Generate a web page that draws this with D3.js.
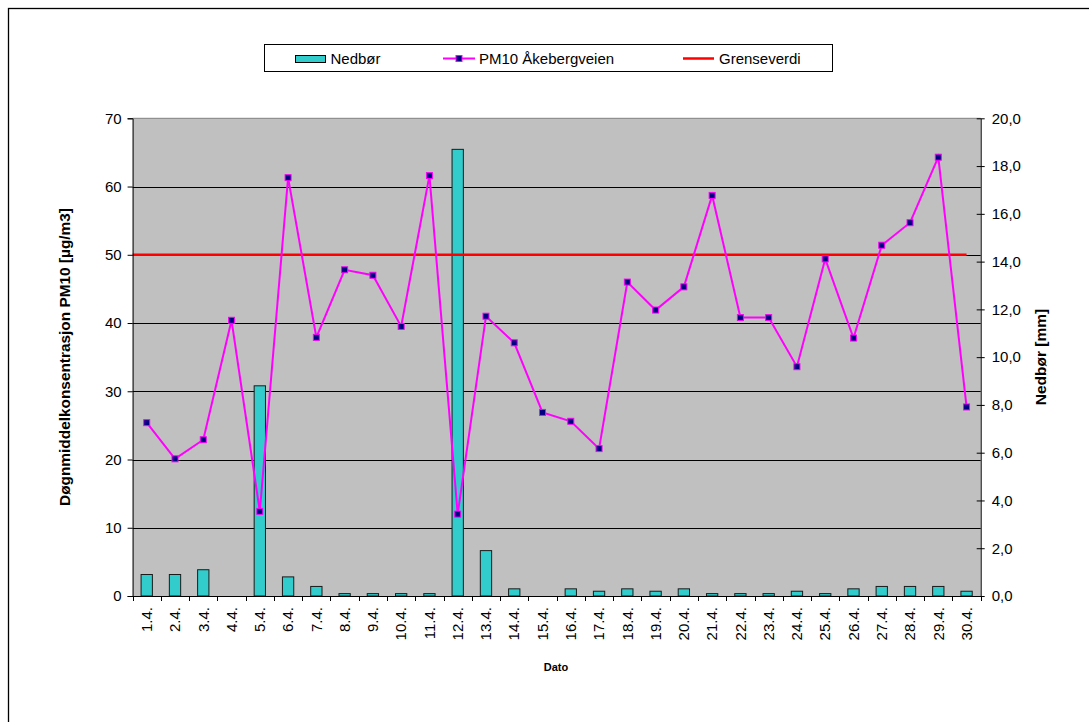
<!DOCTYPE html>
<html>
<head>
<meta charset="utf-8">
<script src="https://cdn.jsdelivr.net/npm/d3@7"></script>
<style>
  html, body { margin: 0; padding: 0; background: #fff; }
  svg { display: block; font-family: "Liberation Sans", Arial, sans-serif; }
</style>
</head>
<body>
<svg id="chart" width="1089" height="722"></svg>
<script>
// ---- data ----
const categories = ["1.4.","2.4.","3.4.","4.4.","5.4.","6.4.","7.4.","8.4.","9.4.","10.4.",
  "11.4.","12.4.","13.4.","14.4.","15.4.","16.4.","17.4.","18.4.","19.4.","20.4.",
  "21.4.","22.4.","23.4.","24.4.","25.4.","26.4.","27.4.","28.4.","29.4.","30.4."];
const pm10 = [25.4, 20.1, 22.9, 40.4, 12.4, 61.3, 37.9, 47.8, 47.0, 39.5,
  61.6, 12.0, 41.0, 37.1, 26.9, 25.6, 21.6, 46.0, 41.9, 45.3,
  58.7, 40.8, 40.8, 33.6, 49.4, 37.8, 51.4, 54.7, 64.3, 27.7];
const nedbor = [0.9, 0.9, 1.1, 0.0, 8.8, 0.8, 0.4, 0.1, 0.1, 0.1,
  0.1, 18.7, 1.9, 0.3, 0.0, 0.3, 0.2, 0.3, 0.2, 0.3,
  0.1, 0.1, 0.1, 0.2, 0.1, 0.3, 0.4, 0.4, 0.4, 0.2];
const grenseverdi = 50;
const leftTicks = [0, 10, 20, 30, 40, 50, 60, 70];
const rightTicks = [0, 2, 4, 6, 8, 10, 12, 14, 16, 18, 20];
const legendLabels = ["Nedbør", "PM10 Åkebergveien", "Grenseverdi"];
const leftTitle = "Døgnmiddelkonsentrasjon PM10 [µg/m3]";
const rightTitle = "Nedbør [mm]";
const xTitle = "Dato";

// ---- layout ----
const svg = d3.select("#chart");
const L = 132.6, R = 980.7, T = 118.3, B = 596;

const x = d3.scaleBand().domain(categories).range([L, R]).padding(0);
const yL = d3.scaleLinear().domain([0, 70]).range([B, T]);
const yR = d3.scaleLinear().domain([0, 20]).range([B, T]);
const commaFmt = d3.formatLocale({decimal: ",", thousands: " ", grouping: [3], currency: ["", ""]}).format(".1f");

// outer frame
svg.append("rect").attr("x", 8.5).attr("y", 8.5).attr("width", 1200).attr("height", 900)
  .attr("fill", "none").attr("stroke", "#000").attr("stroke-width", 1.3);

// plot background
svg.append("rect").attr("x", L).attr("y", T).attr("width", R - L).attr("height", B - T)
  .attr("fill", "#C0C0C0");
svg.append("line").attr("x1", L).attr("x2", R).attr("y1", T).attr("y2", T)
  .attr("stroke", "#808080").attr("stroke-width", 1);

// gridlines
svg.append("g").selectAll("line").data(leftTicks.filter(d => d > 0 && d < 70)).join("line")
  .attr("x1", L).attr("x2", R)
  .attr("y1", d => Math.round(yL(d)) + 0.5).attr("y2", d => Math.round(yL(d)) + 0.5)
  .attr("stroke", "#000").attr("stroke-width", 1);

// bars
const barW = x.bandwidth() * 0.4;
svg.append("g").selectAll("rect").data(nedbor).join("rect")
  .attr("x", (d, i) => x(categories[i]) + (x.bandwidth() - barW) / 2)
  .attr("y", d => yR(d))
  .attr("width", barW)
  .attr("height", d => B - yR(d))
  .attr("fill", "#33CCCC")
  .attr("stroke", d => d > 0 ? "#1a1a1a" : "none")
  .attr("stroke-width", 1);

// limit line
svg.append("line")
  .attr("x1", L).attr("x2", x(categories[categories.length - 1]) + x.bandwidth() / 2)
  .attr("y1", yL(grenseverdi)).attr("y2", yL(grenseverdi))
  .attr("stroke", "#FF0000").attr("stroke-width", 2.5);

// PM10 line
const line = d3.line().x((d, i) => x(categories[i]) + x.bandwidth() / 2).y(d => yL(d));
svg.append("path").datum(pm10).attr("d", line)
  .attr("fill", "none").attr("stroke", "#FF00FF").attr("stroke-width", 2);
svg.append("g").selectAll("rect").data(pm10).join("rect")
  .attr("x", (d, i) => x(categories[i]) + x.bandwidth() / 2 - 3)
  .attr("y", d => yL(d) - 3)
  .attr("width", 6).attr("height", 6)
  .attr("fill", "#000080").attr("stroke", "#FF00FF").attr("stroke-width", 1);

// left axis
const gL = svg.append("g").attr("transform", `translate(${L},0)`)
  .call(d3.axisLeft(yL).tickValues(leftTicks).tickSize(5).tickPadding(6).tickFormat(d3.format("d")));
gL.selectAll("text").attr("font-size", 15).attr("fill", "#000").attr("font-family", "Liberation Sans, Arial, sans-serif");
gL.selectAll("line,path").attr("stroke", "#000");

// right axis
const gR = svg.append("g").attr("transform", `translate(${R},0)`)
  .call(d3.axisRight(yR).tickValues(rightTicks).tickSizeInner(4).tickSizeOuter(0).tickPadding(7).tickFormat(commaFmt));
gR.selectAll(".tick line").attr("x1", -4).attr("x2", 4);
gR.selectAll("text").attr("font-size", 15).attr("fill", "#000").attr("font-family", "Liberation Sans, Arial, sans-serif");
gR.selectAll("line,path").attr("stroke", "#000");

// bottom axis
svg.append("line").attr("x1", L).attr("x2", R).attr("y1", B + 0.5).attr("y2", B + 0.5).attr("stroke", "#000");
const bounds = categories.map(c => x(c)).concat([R]);
svg.append("g").selectAll("line").data(bounds).join("line")
  .attr("x1", d => Math.round(d) + 0.5).attr("x2", d => Math.round(d) + 0.5)
  .attr("y1", B).attr("y2", B + 5).attr("stroke", "#000");
svg.append("g").selectAll("text").data(categories).join("text")
  .attr("transform", d => `translate(${x(d) + x.bandwidth() / 2},607) rotate(-90)`)
  .attr("text-anchor", "end").attr("dy", "0.35em")
  .attr("font-size", 15).text(d => d);

// titles
svg.append("text").attr("transform", `translate(65,357) rotate(-90)`)
  .attr("text-anchor", "middle").attr("dy", "0.35em")
  .attr("font-size", 15.4).attr("font-weight", "bold").text(leftTitle);
svg.append("text").attr("transform", `translate(1040.5,357) rotate(-90)`)
  .attr("text-anchor", "middle").attr("dy", "0.35em")
  .attr("font-size", 15.5).attr("font-weight", "bold").text(rightTitle);
svg.append("text").attr("x", 556).attr("y", 667).attr("dy", "0.35em")
  .attr("text-anchor", "middle").attr("font-size", 11).attr("font-weight", "bold").text(xTitle);

// legend
const lg = svg.append("g");
lg.append("rect").attr("x", 264.5).attr("y", 44.5).attr("width", 568).attr("height", 27)
  .attr("fill", "#fff").attr("stroke", "#000").attr("stroke-width", 1);
const ly = 58.5;
lg.append("rect").attr("x", 295.5).attr("y", 55.5).attr("width", 30).attr("height", 7)
  .attr("fill", "#33CCCC").attr("stroke", "#000");
lg.append("text").attr("x", 330.5).attr("y", ly).attr("dy", "0.35em").attr("font-size", 15).text(legendLabels[0]);
lg.append("line").attr("x1", 443).attr("x2", 475).attr("y1", ly).attr("y2", ly)
  .attr("stroke", "#FF00FF").attr("stroke-width", 2);
lg.append("rect").attr("x", 456).attr("y", ly - 3).attr("width", 6).attr("height", 6)
  .attr("fill", "#000080").attr("stroke", "#FF00FF").attr("stroke-width", 1);
lg.append("text").attr("x", 479).attr("y", ly).attr("dy", "0.35em").attr("font-size", 15).text(legendLabels[1]);
lg.append("line").attr("x1", 683).attr("x2", 714).attr("y1", ly).attr("y2", ly)
  .attr("stroke", "#FF0000").attr("stroke-width", 2.5);
lg.append("text").attr("x", 719).attr("y", ly).attr("dy", "0.35em").attr("font-size", 15).text(legendLabels[2]);
</script>
</body>
</html>
